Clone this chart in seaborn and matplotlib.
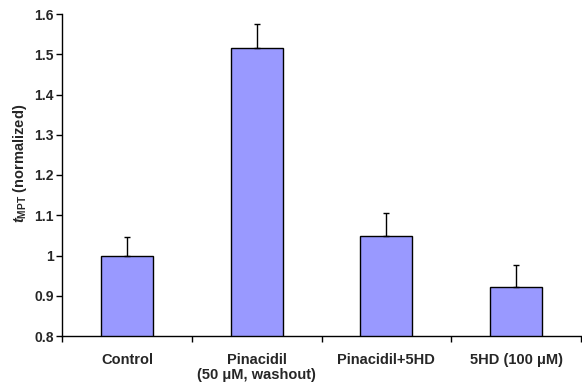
import numpy as np
import pandas as pd
import matplotlib
matplotlib.use("Agg")
import matplotlib.pyplot as plt
import seaborn as sns
from matplotlib.ticker import FixedLocator

categories = ["Control", "Pinacidil\n(50 \u03bcM, washout)", "Pinacidil+5HD", "5HD (100 \u03bcM)"]
means = [1.0, 1.515, 1.049, 0.921]
errors = [0.047, 0.059, 0.056, 0.055]
yticks = [0.8, 0.9, 1.0, 1.1, 1.2, 1.3, 1.4, 1.5, 1.6]
yticklabels = ["0.8", "0.9", "1", "1.1", "1.2", "1.3", "1.4", "1.5", "1.6"]

sns.set_style("ticks")
plt.rcParams['font.family'] = ['Liberation Sans', 'DejaVu Sans']
plt.rcParams['mathtext.fontset'] = 'custom'
plt.rcParams['mathtext.it'] = 'Liberation Sans:italic:bold'
plt.rcParams['mathtext.rm'] = 'Liberation Sans:bold'
plt.rcParams['mathtext.bf'] = 'Liberation Sans:bold'

df = pd.DataFrame({"cat": categories, "val": means})

fig = plt.figure(figsize=(5.82, 3.85), dpi=100)
ax = fig.add_axes([62/582, 1-336/385, 519/582, (336-14)/385])

sns.barplot(data=df, x="cat", y="val", color="#9999FF", edgecolor="black",
            linewidth=1.0, width=0.4, saturation=1, ax=ax)

x = np.arange(len(categories))
ax.errorbar(x, means, yerr=[np.zeros(len(means)), errors], fmt="none",
            ecolor="black", elinewidth=1.0, capsize=2, capthick=1.0)

ax.set_ylim(0.8, 1.6)
ax.set_xlim(-0.5, 3.5)
ax.set_yticks(yticks)
ax.set_yticklabels(yticklabels, fontsize=10, fontweight="bold")
ax.set_xticks(x)
ax.set_xticklabels(categories, fontsize=10.5, fontweight="bold", linespacing=1.1)
ax.xaxis.set_minor_locator(FixedLocator([-0.5, 0.5, 1.5, 2.5, 3.5]))
ax.tick_params(axis="x", which="major", length=0, pad=12)
ax.tick_params(axis="x", which="minor", length=4, width=1, color="black", direction="out")
ax.tick_params(axis="y", length=4, width=1, color="black", direction="out", pad=2)

ax.set_xlabel("")
ax.set_ylabel(r"$t_{\mathrm{MPT}}$ (normalized)", fontsize=10.5, fontweight="bold")
ax.yaxis.set_label_coords(-0.064, 0.535)

for s in ["top", "right"]:
    ax.spines[s].set_visible(False)
for s in ["left", "bottom"]:
    ax.spines[s].set_color("black")
    ax.spines[s].set_linewidth(1.0)

fig.savefig("out.png", dpi=100)
